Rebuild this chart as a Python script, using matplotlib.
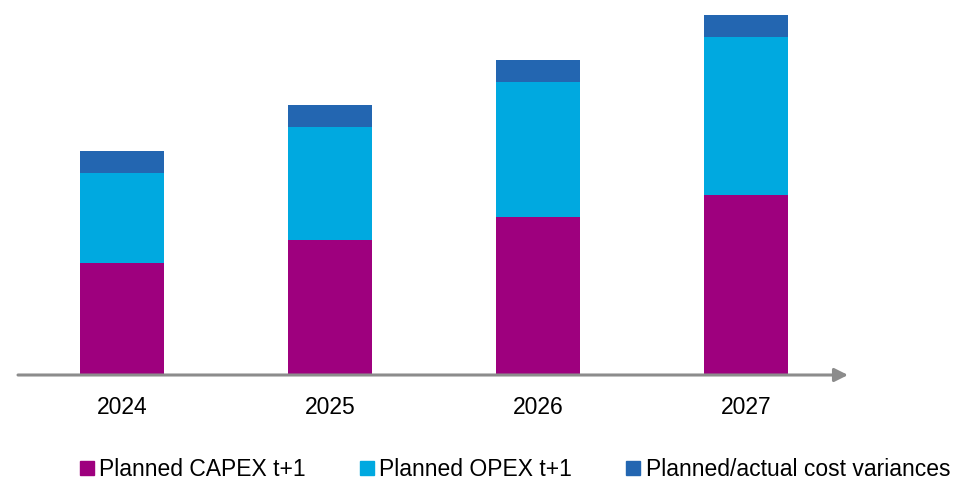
import matplotlib
matplotlib.use("Agg")
import matplotlib.pyplot as plt
from matplotlib.lines import Line2D

plt.rcParams['font.family'] = ['Liberation Sans', 'DejaVu Sans']

years = ['2024', '2025', '2026', '2027']
capex = [112, 135, 158, 180]
opex = [90, 113, 135, 158]
variances = [22.5, 22.5, 22.5, 22]

c_capex = '#9e007e'
c_opex = '#00a9e0'
c_var = '#2366b1'

fig = plt.figure(figsize=(9.57, 4.8), dpi=100)
ax = fig.add_axes([0, 1 - 375 / 480, 1, 375 / 480])

x = list(range(len(years)))
w = 0.4
ax.bar(x, capex, w, color=c_capex)
ax.bar(x, opex, w, bottom=capex, color=c_opex)
bottoms = [a + b for a, b in zip(capex, opex)]
ax.bar(x, variances, w, bottom=bottoms, color=c_var)

ax.set_xlim(-122 / 208, (957 - 122) / 208)
ax.set_ylim(0, 375)
for s in ax.spines.values():
    s.set_visible(False)
ax.set_yticks([])
ax.set_xticks(x)
ax.set_xticklabels(years, fontsize=16.5)
ax.tick_params(axis='x', length=0, pad=15)

# axis with arrow
ax.annotate('', xy=((848 - 122) / 208, 0), xytext=((18 - 122) / 208, 0),
            arrowprops=dict(arrowstyle='-|>', color='#8c8c8c', lw=2.2,
                            mutation_scale=20, shrinkA=0, shrinkB=0),
            annotation_clip=False)

handles = [Line2D([], [], marker='s', linestyle='', color=c, markersize=10)
           for c in (c_capex, c_opex, c_var)]
labels = ['Planned CAPEX t+1', 'Planned OPEX t+1', 'Planned/actual cost variances']
fig.legend(handles, labels, loc='center', bbox_to_anchor=(0.5376, 1 - 470 / 480),
           ncol=3, frameon=False, fontsize=16.5, handletextpad=0.2,
           columnspacing=2.3, handlelength=0.7, borderpad=0, borderaxespad=0)

fig.savefig('out.png', dpi=100)
